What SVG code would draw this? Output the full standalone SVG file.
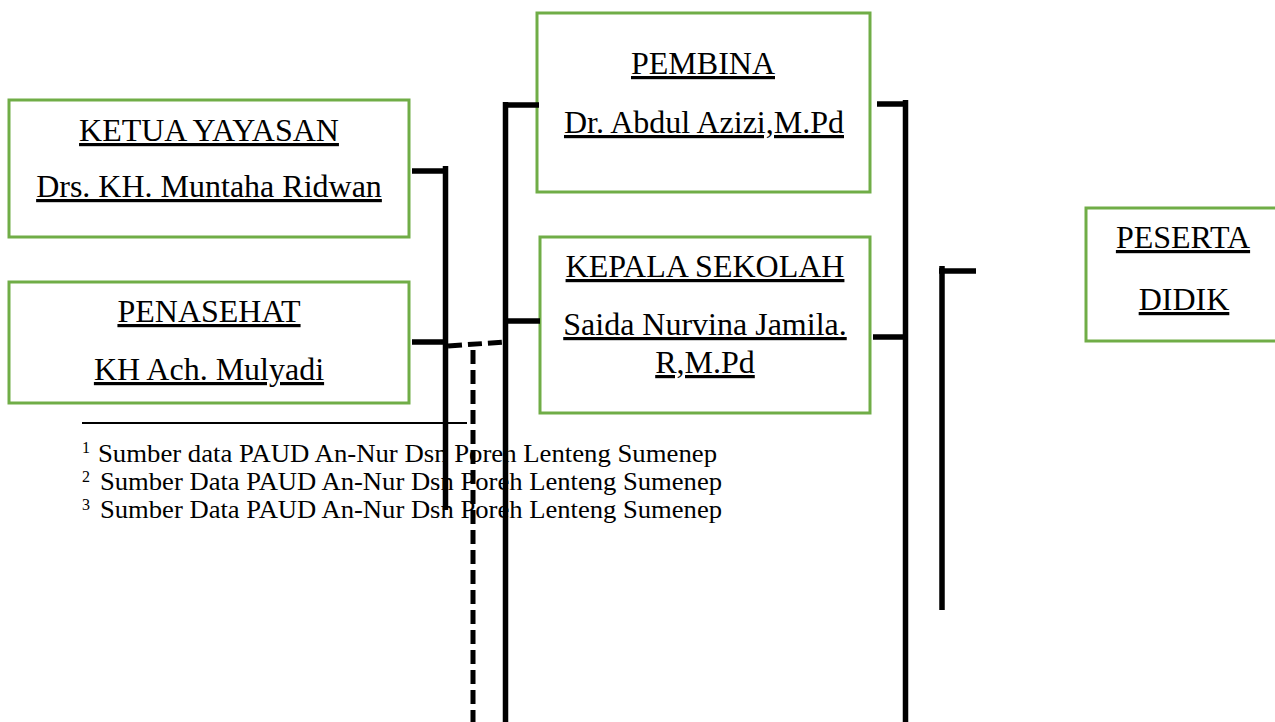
<svg xmlns="http://www.w3.org/2000/svg" width="1275" height="722" viewBox="0 0 1275 722">
<style>
.box{fill:#fff;stroke:#70ad47;stroke-width:3}
.t{font-family:"Liberation Serif","Times New Roman",serif;font-size:32px;fill:#000;text-anchor:middle;text-decoration:underline}
.fn{font-family:"Liberation Serif","Times New Roman",serif;font-size:26px;fill:#000}
.sup{font-family:"Liberation Serif","Times New Roman",serif;font-size:16px;fill:#000}
.c{stroke:#000;stroke-width:5.5;fill:none;stroke-linecap:butt}
.d{stroke:#000;stroke-width:5;fill:none;stroke-dasharray:14 6}
</style>
<rect width="1275" height="722" fill="#fff"/>
<g id="footnotes">
<line x1="82" y1="423" x2="467" y2="423" stroke="#000" stroke-width="2"/>
<text class="sup" x="82" y="453">1</text>
<text class="fn" x="98" y="462" textLength="619" lengthAdjust="spacingAndGlyphs">Sumber data PAUD An-Nur Dsn Poreh Lenteng Sumenep</text>
<text class="sup" x="82" y="482">2</text>
<text class="fn" x="100" y="490" textLength="622" lengthAdjust="spacingAndGlyphs">Sumber Data PAUD An-Nur Dsn Poreh Lenteng Sumenep</text>
<text class="sup" x="82" y="510">3</text>
<text class="fn" x="100" y="518" textLength="622" lengthAdjust="spacingAndGlyphs">Sumber Data PAUD An-Nur Dsn Poreh Lenteng Sumenep</text>
</g>
<g id="ketua">
<rect class="box" x="9" y="100" width="400" height="137"/>
<text class="t" x="209" y="141">KETUA YAYASAN</text>
<text class="t" x="209" y="197">Drs. KH. Muntaha Ridwan</text>
</g>
<g id="penasehat">
<rect class="box" x="9" y="282" width="400" height="121"/>
<text class="t" x="209" y="322">PENASEHAT</text>
<text class="t" x="209" y="380">KH Ach. Mulyadi</text>
</g>
<g id="pembina">
<rect class="box" x="537" y="13" width="333" height="179"/>
<text class="t" x="703" y="74">PEMBINA</text>
<text class="t" x="704" y="133">Dr. Abdul Azizi,M.Pd</text>
</g>
<g id="kepala">
<rect class="box" x="540" y="237" width="330" height="176"/>
<text class="t" x="705" y="277">KEPALA SEKOLAH</text>
<text class="t" x="705" y="335">Saida Nurvina Jamila.</text>
<text class="t" x="705" y="373">R,M.Pd</text>
</g>
<g id="peserta">
<rect class="box" x="1086" y="208" width="200" height="133"/>
<text class="t" x="1183" y="248">PESERTA</text>
<text class="t" x="1184" y="310">DIDIK</text>
</g>
<g id="connectors">
<path class="c" d="M412 171 H448 M445.5 166 V510 M412 342 H448"/>
<path class="d" d="M448 346 L505 342 M473 350 V722"/>
<path class="c" d="M505.5 102 V722 M503 105 H539 M505 321 H540"/>
<path class="c" d="M877 104 H908 M905.5 100 V722 M873 337 H908"/>
<path class="c" d="M942 266 V610 M939 271 H976"/>
</g>
</svg>
